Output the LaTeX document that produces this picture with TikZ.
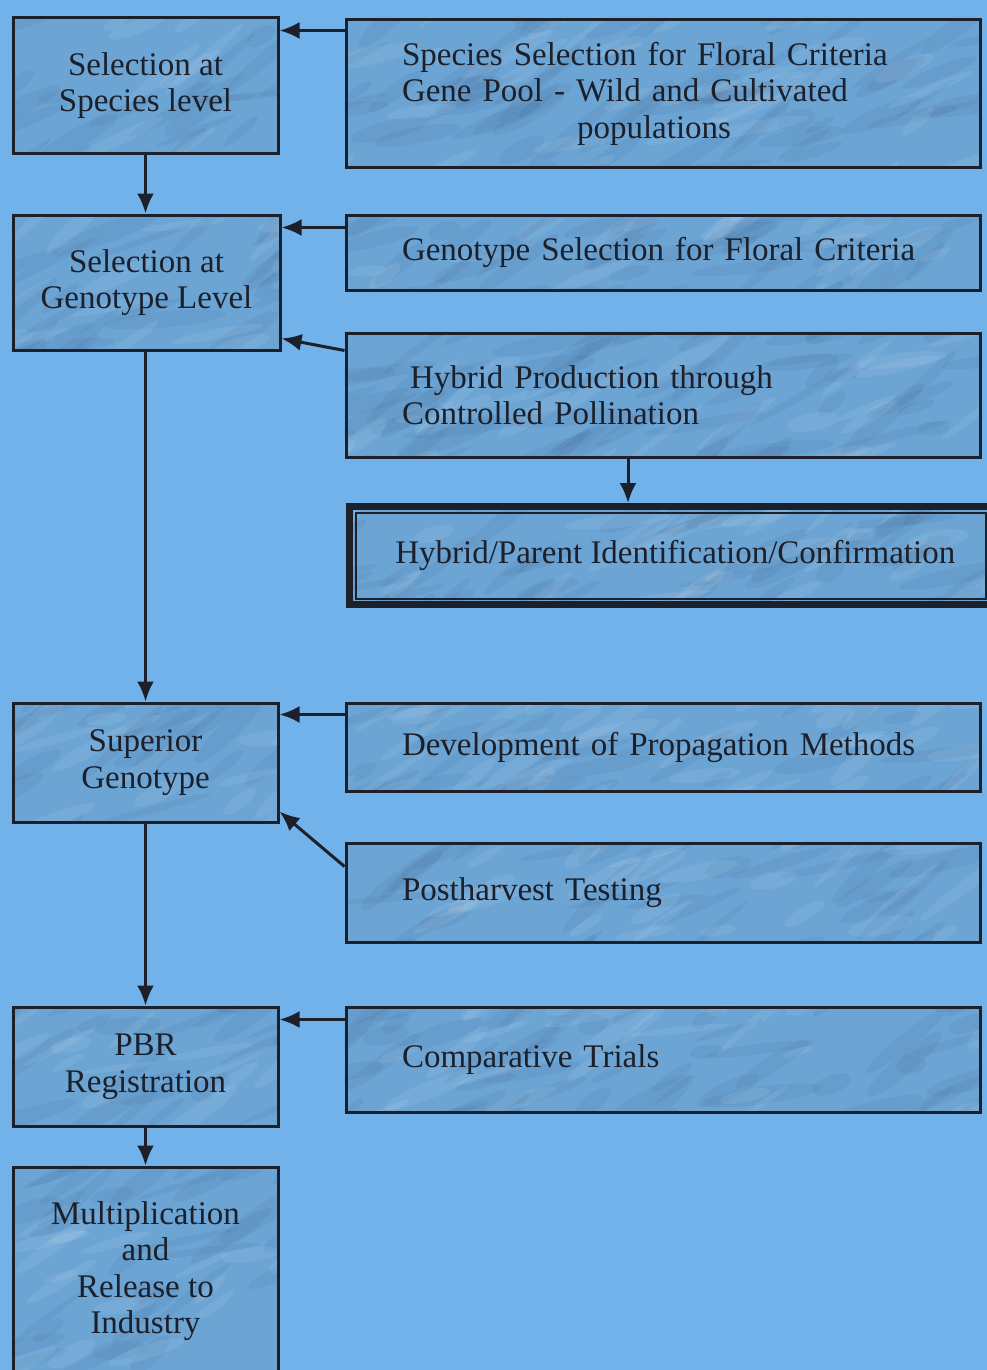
\documentclass[tikz,border=0pt]{standalone}
\usepackage{fontspec}
\setmainfont{Liberation Serif}
\newfontfamily\boxface{Liberation Serif}
\usetikzlibrary{arrows.meta}
\definecolor{bgblue}{RGB}{113,178,234}
\definecolor{boxblue}{RGB}{108,164,212}
\definecolor{marbledark}{RGB}{40,70,110}
\definecolor{inkdark}{RGB}{28,32,42}
\pgfdeclarelayer{background}
\pgfsetlayers{background,main}
\tikzset{
  basebox/.style={draw=inkdark, line width=3pt, rectangle, text=inkdark,
    font=\boxface\fontsize{33}{36.5}\selectfont},
  leftbox/.style={basebox, minimum width=265pt, align=center, inner sep=4pt},
  rightbox/.style={basebox, minimum width=634pt, text width=522pt, inner xsep=56pt,
    align=left},
  arr/.style={draw=inkdark, line width=3pt, -{Latex[length=20pt,width=17pt]}},
}
\begin{document}
\begin{tikzpicture}[x=1pt,y=-1pt]
\useasboundingbox (0,0) rectangle (987,1370);

% left column: main stages
\node[leftbox, minimum height=135pt] (lA) at (145.5,85.5) {Selection at\\Species level};
\node[leftbox, minimum width=267pt, minimum height=135pt] (lB) at (146.5,282.5) {Selection at\\Genotype Level};
\node[leftbox, minimum height=119pt] (lC) at (145.5,762.5) {Superior\\Genotype};
\node[leftbox, minimum height=119pt] (lD) at (145.5,1066.5) {PBR\\Registration};
\node[leftbox, minimum height=208pt] (lE) at (145.5,1271) {Multiplication\\and\\Release to\\Industry};

% right column: supporting activities
\node[rightbox, minimum height=147pt] (rA) at (663,93.5)
  {Species Selection for Floral Criteria\\Gene Pool - Wild and Cultivated\\\hspace*{175pt}populations};
\node[rightbox, minimum height=75pt] (rB) at (663,252.5) {Genotype Selection for Floral Criteria};
\node[rightbox, minimum height=124pt] (rC) at (663,395)
  {\hspace*{8pt}Hybrid Production through\\Controlled Pollination};
\node[rightbox, minimum height=88pt] (rD) at (663,747) {Development of Propagation Methods};
\node[rightbox, minimum height=99pt] (rE) at (663,892.5) {Postharvest Testing};
\node[rightbox, minimum height=105pt] (rF) at (663,1059.5) {Comparative Trials};

% double-framed identification box
\node[basebox, line width=7pt, minimum width=645.5pt, minimum height=98pt, inner sep=0pt] (hyb)
  at (672.25,555.5) {};
\draw[draw=inkdark, line width=2.2pt] ([shift={(10pt,-10pt)}]hyb.north west)
  rectangle ([shift={(-12pt,9pt)}]hyb.south east);
\node[text=inkdark, font=\boxface\fontsize{33}{36.5}\selectfont, inner sep=0pt] (hybtxt)
  at ([xshift=3pt]hyb.center) {Hybrid/Parent Identification/Confirmation};

% connectors
\draw[arr] ([yshift=-12pt]rA.north west) -- ([yshift=-14pt]lA.north east);
\draw[arr] (lA.south) -- (lA.south |- lB.north);
\draw[arr] ([yshift=-14pt]rB.north west) -- ([yshift=-14pt]lB.north east);
\draw[arr] ([yshift=-19pt]rC.north west) -- ([yshift=13pt]lB.south east);
\draw[arr] ([xshift=-35pt]rC.south) -- ([xshift=-35pt]rC.south |- hyb.north);
\draw[arr] (lB.south -| lC.north) -- (lC.north);
\draw[arr] ([yshift=-13pt]rD.north west) -- ([yshift=-13pt]lC.north east);
\draw[arr] ([yshift=-25pt]rE.north west) -- ([yshift=12pt]lC.south east);
\draw[arr] (lC.south) -- (lD.north);
\draw[arr] ([yshift=-14pt]rF.north west) -- ([yshift=-14pt]lD.north east);
\draw[arr] (lD.south) -- (lE.north);

% page colour, box fills and marbled texture
\begin{pgfonlayer}{background}
  \fill[bgblue] (0,0) rectangle (987,1370);
  \foreach \n in {lA,lB,lC,lD,lE,rA,rB,rC,rD,rE,rF,hyb}
    \fill[boxblue] (\n.north west) rectangle (\n.south east);
  \begin{scope}
    \clip (lA.north west) rectangle (lA.south east)
          (lB.north west) rectangle (lB.south east)
          (lC.north west) rectangle (lC.south east)
          (lD.north west) rectangle (lD.south east)
          (lE.north west) rectangle (lE.south east)
          (rA.north west) rectangle (rA.south east)
          (rB.north west) rectangle (rB.south east)
          (rC.north west) rectangle (rC.south east)
          (rD.north west) rectangle (rD.south east)
          (rE.north west) rectangle (rE.south east)
          (rF.north west) rectangle (rF.south east)
          (hyb.north west) rectangle (hyb.south east);
    \pgfmathsetseed{7}
    \foreach \i in {1,...,700}{
      \pgfmathsetmacro\px{rnd*987}
      \pgfmathsetmacro\py{rnd*1370}
      \pgfmathsetmacro\pa{5+rnd*40}
      \pgfmathsetmacro\pl{15+rnd*50}
      \pgfmathsetmacro\pw{3+rnd*7}
      \fill[marbledark, opacity=0.07, rotate around={\pa:(\px,\py)}]
        (\px,\py) ellipse ({\pl} and {\pw});
    }
    \foreach \i in {1,...,450}{
      \pgfmathsetmacro\px{rnd*987}
      \pgfmathsetmacro\py{rnd*1370}
      \pgfmathsetmacro\pa{5+rnd*40}
      \pgfmathsetmacro\pl{15+rnd*40}
      \pgfmathsetmacro\pw{3+rnd*6}
      \fill[white, opacity=0.08, rotate around={\pa:(\px,\py)}]
        (\px,\py) ellipse ({\pl} and {\pw});
    }
  \end{scope}
\end{pgfonlayer}
\end{tikzpicture}
\end{document}
